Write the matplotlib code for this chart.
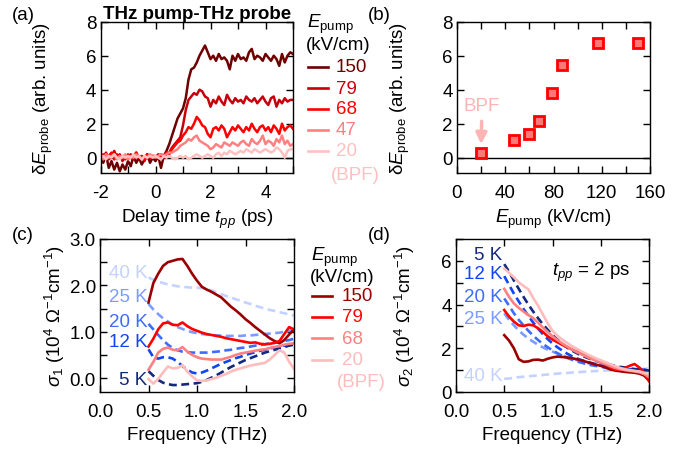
import matplotlib.pyplot as plt
import numpy as np
from matplotlib.ticker import MultipleLocator, FormatStrFormatter
from matplotlib.lines import Line2D

plt.rcParams['font.family'] = ['Liberation Sans', 'DejaVu Sans']
plt.rcParams['mathtext.fontset'] = 'custom'
plt.rcParams['mathtext.rm'] = 'Liberation Sans'
plt.rcParams['mathtext.it'] = 'Liberation Sans:italic'
plt.rcParams['mathtext.bf'] = 'Liberation Sans:bold'
plt.rcParams['axes.unicode_minus'] = False
FS = 13.5
plt.rcParams['font.size'] = FS

# ---- (a) pump-probe traces, delay -2 .. 5 ps in 0.1 ps steps ----
delay = np.round(np.arange(-2.0, 5.05, 0.1), 1)
trace_150 = [0.1, -0.3, 0.2, -0.6, -0.2, -0.7, -0.3, -0.8, -0.4, -0.7,
             -0.2, -0.5, 0.1, -0.3, 0.0, -0.4, -0.1, 0.2, -0.3, 0.0,
             -0.2, 0.1, -0.6, 0.1, 0.4, 0.8, 1.3, 1.8, 2.3, 2.6,
             2.9, 3.5, 4.6, 5.2, 5.3, 5.6, 6.0, 6.3, 6.6, 6.2,
             5.8, 6.0, 5.7, 6.1, 5.8, 5.9, 5.7, 5.2, 6.0, 5.7,
             6.1, 5.8, 5.9, 5.7, 6.2, 6.4, 5.8, 6.0, 5.9, 5.7,
             6.1, 5.9, 5.7, 6.0, 5.8, 5.4, 6.1, 5.6, 6.0, 6.2,
             6.1]
trace_79 = [0.2, 0.0, 0.3, -0.1, 0.1, 0.4, 0.0, 0.2, -0.2, 0.1,
            0.0, 0.2, -0.1, 0.3, 0.0, 0.1, -0.2, 0.2, 0.0, 0.1,
            0.0, 0.2, 0.1, 0.0, 0.2, 0.3, 0.6, 0.8, 1.0, 1.2,
            1.9, 2.8, 3.4, 3.6, 3.8, 3.7, 4.0, 3.9, 3.6, 3.5,
            3.0, 3.4, 3.2, 3.6, 3.3, 3.1, 3.7, 3.4, 3.2, 3.5,
            3.3, 3.4, 3.2, 3.6, 3.4, 3.3, 3.5, 3.2, 3.4, 3.6,
            3.3, 3.1, 3.5, 3.6, 3.0, 3.4, 3.2, 3.5, 3.3, 3.4,
            3.4]
trace_68 = [-0.1, 0.2, 0.0, 0.1, 0.3, -0.1, 0.2, 0.0, 0.1, -0.1,
            0.2, 0.0, 0.1, 0.3, 0.0, 0.1, -0.1, 0.2, 0.0, 0.1,
            0.1, 0.0, 0.2, 0.1, 0.3, 0.2, 0.5, 0.7, 0.9, 1.0,
            1.3, 1.5, 1.8, 1.7, 2.0, 2.4, 2.2, 1.9, 1.8, 1.4,
            1.2, 1.7, 1.8, 1.6, 1.9, 1.7, 1.2, 1.5, 1.8, 1.6,
            1.9, 1.7, 1.5, 1.8, 1.6, 2.0, 1.7, 1.5, 1.8, 1.9,
            1.6, 1.8, 1.5, 1.9, 1.7, 1.4, 2.0, 1.6, 1.8, 1.9,
            1.7]
trace_47 = [0.1, -0.1, 0.2, 0.0, 0.1, 0.2, -0.1, 0.1, 0.0, 0.2,
            -0.1, 0.1, 0.0, 0.2, 0.1, -0.1, 0.1, 0.0, 0.2, 0.1,
            0.0, 0.1, 0.2, 0.1, 0.2, 0.3, 0.3, 0.4, 0.5, 0.7,
            0.8, 0.9, 1.1, 1.0, 1.2, 1.3, 1.0, 0.9, 0.8, 0.7,
            0.5, 0.6, 0.8, 0.7, 0.6, 0.9, 0.8, 0.7, 0.9, 0.8,
            0.7, 0.9, 1.0, 0.8, 0.7, 1.1, 0.9, 0.8, 1.0, 1.3,
            0.8, 1.0, 0.9, 0.7, 1.1, 0.9, 1.3, 0.8, 1.0, 0.7,
            0.8]
trace_20 = [0.0, 0.1, -0.1, 0.1, 0.0, 0.2, 0.0, -0.1, 0.1, 0.0,
            0.1, 0.0, 0.2, 0.0, 0.1, -0.1, 0.1, 0.0, 0.1, 0.0,
            0.1, 0.0, -0.1, 0.1, 0.0, 0.1, 0.0, -0.1, 0.0, 0.1,
            0.0, 0.1, -0.1, 0.0, 0.1, 0.2, 0.1, 0.0, 0.1, 0.2,
            0.1, 0.0, 0.2, 0.3, 0.1, 0.3, 0.2, 0.4, 0.3, 0.2,
            0.3, 0.4, 0.3, 0.5, 0.4, 0.3, 0.5, 0.4, 0.3, 0.4,
            0.5, 0.4, 0.3, 0.4, 0.6, 0.5, 0.3, 0.0, 0.4, 0.5,
            0.5]

# ---- (b) peak signal vs pump field ----
e_pump = [20, 47, 60, 68, 79, 87, 117, 150]
peak_signal = [0.25, 1.04, 1.42, 2.15, 3.83, 5.47, 6.72, 6.72]

# ---- (c), (d) optical conductivity, 0.5 .. 2.0 THz in 0.05 THz steps ----
freq = np.round(np.arange(0.5, 2.001, 0.05), 2)
s1_150 = [1.63, 2.05, 2.25, 2.42, 2.50, 2.53, 2.56, 2.57, 2.42, 2.25,
          2.10, 1.97, 1.91, 1.86, 1.80, 1.74, 1.64, 1.54, 1.46, 1.37,
          1.27, 1.19, 1.10, 1.02, 0.94, 0.86, 0.80, 0.75, 0.82, 0.94, 1.05]
s1_79 = [0.68, 0.85, 1.05, 1.18, 1.20, 1.15, 1.14, 1.20, 1.12, 1.06,
         1.02, 0.98, 0.95, 0.93, 0.91, 0.89, 0.86, 0.84, 0.82, 0.80,
         0.78, 0.76, 0.77, 0.74, 0.73, 0.74, 0.76, 0.80, 0.95, 1.10, 1.05]
s1_68 = [0.18, 0.35, 0.55, 0.63, 0.66, 0.61, 0.60, 0.67, 0.57, 0.50,
         0.45, 0.42, 0.41, 0.40, 0.40, 0.40, 0.43, 0.46, 0.50, 0.53,
         0.55, 0.57, 0.59, 0.61, 0.62, 0.65, 0.67, 0.69, 0.72, 0.74, 0.75]
s1_20 = [-0.02, -0.12, -0.02, 0.12, 0.25, 0.21, 0.22, 0.28, 0.14, 0.04,
         -0.05, -0.06, -0.05, -0.02, 0.01, 0.05, 0.09, 0.14, 0.18, 0.21,
         0.24, 0.27, 0.29, 0.31, 0.33, 0.40, 0.50, 0.60, 0.55, 0.35, 0.20]
s1_40K = [2.17, 2.12, 2.08, 2.05, 2.02, 2.00, 1.98, 1.97, 1.96, 1.95,
          1.95, 1.94, 1.92, 1.89, 1.85, 1.81, 1.77, 1.74, 1.70, 1.67,
          1.63, 1.60, 1.56, 1.53, 1.50, 1.47, 1.45, 1.42, 1.40, 1.37, 1.35]
s1_25K = [1.60, 1.48, 1.38, 1.29, 1.22, 1.15, 1.10, 1.06, 1.02, 0.99,
          0.97, 0.95, 0.94, 0.93, 0.92, 0.92, 0.91, 0.91, 0.91, 0.91,
          0.92, 0.92, 0.93, 0.94, 0.95, 0.96, 0.97, 0.98, 1.00, 1.02, 1.04]
s1_20K = [1.17, 1.05, 0.93, 0.82, 0.72, 0.65, 0.60, 0.57, 0.56, 0.55,
          0.55, 0.55, 0.55, 0.56, 0.57, 0.58, 0.60, 0.61, 0.63, 0.65,
          0.66, 0.68, 0.70, 0.71, 0.73, 0.75, 0.76, 0.78, 0.80, 0.82, 0.85]
s1_12K = [0.62, 0.45, 0.42, 0.45, 0.45, 0.42, 0.35, 0.26, 0.18, 0.12,
          0.10, 0.12, 0.16, 0.21, 0.26, 0.31, 0.35, 0.39, 0.43, 0.46,
          0.50, 0.53, 0.56, 0.59, 0.61, 0.64, 0.66, 0.68, 0.70, 0.72, 0.75]
s1_5K = [0.15, 0.05, -0.04, -0.10, -0.13, -0.15, -0.15, -0.14, -0.13, -0.12,
         -0.11, -0.08, -0.04, 0.01, 0.06, 0.12, 0.18, 0.24, 0.29, 0.34,
         0.39, 0.43, 0.47, 0.51, 0.55, 0.58, 0.61, 0.64, 0.67, 0.70, 0.72]

s2_150 = [2.60, 2.35, 2.00, 1.50, 1.38, 1.40, 1.47, 1.48, 1.44, 1.52,
          1.58, 1.62, 1.60, 1.58, 1.55, 1.50, 1.45, 1.38, 1.32, 1.25,
          1.20, 1.12, 1.03, 0.98, 0.95, 0.92, 0.90, 0.88, 0.84, 0.75, 0.52]
s2_79 = [3.75, 3.45, 3.22, 3.05, 3.02, 3.08, 3.05, 2.92, 2.75, 2.55,
         2.40, 2.28, 2.16, 2.05, 1.95, 1.85, 1.75, 1.65, 1.55, 1.46,
         1.38, 1.28, 1.12, 1.02, 1.02, 1.10, 1.20, 1.28, 1.12, 0.90, 0.50]
s2_68 = [4.72, 4.35, 4.05, 3.85, 3.68, 3.52, 3.38, 3.18, 2.95, 2.75,
         2.55, 2.38, 2.22, 2.08, 1.95, 1.83, 1.72, 1.62, 1.52, 1.43,
         1.35, 1.27, 1.18, 1.10, 1.04, 1.00, 0.97, 0.94, 0.90, 0.82, 0.68]
s2_20 = [5.65, 5.45, 5.25, 5.02, 4.85, 4.70, 4.30, 3.95, 3.55, 3.15,
         2.80, 2.58, 2.40, 2.25, 2.10, 1.98, 1.86, 1.75, 1.64, 1.54,
         1.45, 1.36, 1.27, 1.18, 1.10, 1.04, 1.00, 0.97, 0.94, 0.88, 0.80]
s2_5K = [5.85, 5.50, 5.10, 4.72, 4.35, 4.00, 3.68, 3.38, 3.10, 2.85,
         2.60, 2.40, 2.20, 2.04, 1.90, 1.78, 1.67, 1.58, 1.50, 1.42,
         1.35, 1.30, 1.24, 1.20, 1.15, 1.12, 1.08, 1.05, 1.03, 1.01, 0.98]
s2_12K = [5.30, 4.90, 4.50, 4.15, 3.80, 3.48, 3.18, 2.90, 2.65, 2.42,
          2.22, 2.05, 1.90, 1.76, 1.64, 1.54, 1.46, 1.39, 1.33, 1.27,
          1.22, 1.18, 1.14, 1.11, 1.08, 1.06, 1.04, 1.03, 1.02, 1.01, 1.00]
s2_20K = [4.28, 3.95, 3.60, 3.30, 3.05, 2.80, 2.58, 2.38, 2.20, 2.05,
          1.90, 1.78, 1.66, 1.56, 1.48, 1.40, 1.34, 1.28, 1.23, 1.19,
          1.15, 1.12, 1.09, 1.07, 1.05, 1.04, 1.03, 1.02, 1.02, 1.01, 1.00]
s2_25K = [3.60, 3.30, 3.05, 2.82, 2.62, 2.45, 2.30, 2.16, 2.04, 1.94,
          1.85, 1.76, 1.68, 1.60, 1.53, 1.46, 1.40, 1.34, 1.29, 1.24,
          1.20, 1.16, 1.12, 1.09, 1.06, 1.03, 1.01, 0.99, 0.97, 0.96, 0.95]
s2_40K = [0.60, 0.62, 0.65, 0.68, 0.70, 0.72, 0.74, 0.76, 0.78, 0.80,
          0.82, 0.84, 0.86, 0.87, 0.89, 0.90, 0.92, 0.93, 0.95, 0.96,
          0.97, 0.98, 0.99, 1.00, 1.01, 1.02, 1.03, 1.04, 1.05, 1.06, 1.07]

pump_labels_a = ['150', '79', '68', '47', '20']
pump_colors_a = ['#6e0000', '#c8000c', '#ff0000', '#ff8080', '#ffc0c0']
pump_labels_c = ['150', '79', '68', '20']
pump_colors_c = ['#9b0000', '#ff0000', '#ff8080', '#ffbcbc']
temp_labels = ['40 K', '25 K', '20 K', '12 K', '5 K']
temp_colors = ['#c4d2ff', '#7c9cff', '#3d6cff', '#0f46f5', '#14287f']

W, H = 695, 456
fig = plt.figure(figsize=(W / 100, H / 100), dpi=100)


def box(l, t, r, b):
    return [l / W, 1 - b / H, (r - l) / W, (b - t) / H]


def fx(x):
    return x / W


def fy(y):
    return 1 - y / H


def style(ax):
    ax.tick_params(which='both', direction='in', top=True, right=True,
                   length=5, width=1, labelsize=FS)
    ax.tick_params(axis='x', which='both', pad=8)
    ax.tick_params(axis='y', which='both', pad=3)
    for s in ax.spines.values():
        s.set_linewidth(1)


ax_a = fig.add_axes(box(100.5, 22.7, 293, 174))
ax_b = fig.add_axes(box(457, 22.7, 650, 174))
ax_c = fig.add_axes(box(100, 240, 294, 393))
ax_d = fig.add_axes(box(456, 240, 649, 393))

# (a)
ax_a.axhline(0, color='black', lw=1)
for tr, c in zip([trace_150, trace_79, trace_68, trace_47, trace_20], pump_colors_a):
    ax_a.plot(delay, tr, color=c, lw=1.8)
ax_a.set_xlim(-2, 5)
ax_a.set_ylim(-0.9, 8)
ax_a.xaxis.set_major_locator(MultipleLocator(2))
ax_a.xaxis.set_minor_locator(MultipleLocator(1))
ax_a.yaxis.set_major_locator(MultipleLocator(2))
style(ax_a)
ax_a.set_xlabel('Delay time $t_{pp}$ (ps)', fontsize=FS, labelpad=4)
ax_a.set_ylabel(r'δ$E_{\mathrm{probe}}$ (arb. units)', fontsize=FS)
ax_a.yaxis.set_label_coords(-0.235, 0.5)
ax_a.set_title('THz pump-THz probe', fontsize=FS, fontweight='bold', pad=0)

# (b)
ax_b.axhline(0, color='black', lw=1)
ax_b.plot(e_pump, peak_signal, ls='none', marker='s', ms=7.5, mew=2,
          mec='#ff0000', mfc='#ff7878')
ax_b.annotate('BPF', xy=(e_pump[0], 0.8), xytext=(e_pump[0] + 0.7, 3.05),
              ha='center', va='center', color='#ffb4b4', fontsize=FS,
              arrowprops=dict(arrowstyle='-|>', color='#ffb4b4', lw=2.5,
                              mutation_scale=16, shrinkA=3, shrinkB=0))
ax_b.set_xlim(0, 160)
ax_b.set_ylim(-0.9, 8)
ax_b.xaxis.set_major_locator(MultipleLocator(40))
ax_b.xaxis.set_minor_locator(MultipleLocator(20))
ax_b.yaxis.set_major_locator(MultipleLocator(2))
style(ax_b)
ax_b.set_xlabel(r'$E_{\mathrm{pump}}$ (kV/cm)', fontsize=FS, labelpad=4)
ax_b.set_ylabel(r'δ$E_{\mathrm{probe}}$ (arb. units)', fontsize=FS)
ax_b.yaxis.set_label_coords(-0.233, 0.5)

# (c) and (d)
dash = (0, (3, 1.7))
for s, c in zip([s1_40K, s1_25K, s1_20K, s1_12K, s1_5K], temp_colors):
    ax_c.plot(freq, s, color=c, lw=1.9, ls=dash)
for s, c in zip([s1_150, s1_79, s1_68, s1_20], pump_colors_c):
    ax_c.plot(freq, s, color=c, lw=1.9)
for s, c in zip([s2_40K, s2_25K, s2_20K, s2_12K, s2_5K], temp_colors):
    ax_d.plot(freq, s, color=c, lw=1.9, ls=dash)
for s, c in zip([s2_150, s2_79, s2_68, s2_20], pump_colors_c):
    ax_d.plot(freq, s, color=c, lw=1.9)

label_y_c = [2.27, 1.75, 1.23, 0.78, -0.02]
for t, c, y in zip(temp_labels, temp_colors, label_y_c):
    ax_c.text(0.49, y, t, color=c, ha='right', va='center', fontsize=FS)
label_y_d = [0.74, 3.36, 4.38, 5.44, 6.27]
for t, c, y in zip(temp_labels, temp_colors, label_y_d):
    ax_d.text(0.48, y, t, color=c, ha='right', va='center', fontsize=FS)
ax_d.text(1.0, 5.5, '$t_{pp}$ = 2 ps', ha='left', va='center', fontsize=FS)

ax_c.set_xlim(0, 2)
ax_c.set_ylim(-0.3, 3.0)
ax_c.xaxis.set_major_locator(MultipleLocator(0.5))
ax_c.yaxis.set_major_locator(MultipleLocator(1.0))
ax_c.yaxis.set_minor_locator(MultipleLocator(0.5))
ax_c.xaxis.set_major_formatter(FormatStrFormatter('%.1f'))
ax_c.yaxis.set_major_formatter(FormatStrFormatter('%.1f'))
style(ax_c)
ax_c.set_xlabel('Frequency (THz)', fontsize=FS, labelpad=4)
ax_c.set_ylabel(r'$\sigma_1$ (10$^4$ Ω$^{-1}$cm$^{-1}$)', fontsize=FS)
ax_c.yaxis.set_label_coords(-0.17, 0.5)

ax_d.set_xlim(0, 2)
ax_d.set_ylim(0, 7)
ax_d.xaxis.set_major_locator(MultipleLocator(0.5))
ax_d.yaxis.set_major_locator(MultipleLocator(2))
ax_d.yaxis.set_minor_locator(MultipleLocator(1))
ax_d.xaxis.set_major_formatter(FormatStrFormatter('%.1f'))
style(ax_d)
ax_d.set_xlabel('Frequency (THz)', fontsize=FS, labelpad=4)
ax_d.set_ylabel(r'$\sigma_2$ (10$^4$ Ω$^{-1}$cm$^{-1}$)', fontsize=FS)
ax_d.yaxis.set_label_coords(-0.202, 0.5)


# pump-field keys between the panels
def pump_key(x_line, x_text, y_title, rows, colors, y_rows, y_bpf, x_bpf):
    fig.text(fx(x_line - 1), fy(y_title), r'$E_{\mathrm{pump}}$', va='center', fontsize=FS)
    fig.text(fx(x_line - 2), fy(y_title + 21), '(kV/cm)', va='center', fontsize=FS)
    for lab, c, y in zip(rows, colors, y_rows):
        fig.add_artist(Line2D([fx(x_line), fx(x_line + 20)], [fy(y), fy(y)],
                              color=c, lw=1.9))
        fig.text(fx(x_text), fy(y), lab, color=c, va='center', fontsize=FS)
    fig.text(fx(x_bpf), fy(y_bpf), '(BPF)', color=colors[-1], va='center', fontsize=FS)


pump_key(308, 336, 24, pump_labels_a, pump_colors_a,
         [68, 89, 110, 131, 152], 175, 331)
pump_key(312, 342, 257, pump_labels_c, pump_colors_c,
         [297, 318, 339, 361], 383, 337)

for lab, x, y in [('(a)', 12, 15), ('(b)', 368, 15), ('(c)', 12, 236), ('(d)', 368, 236)]:
    fig.text(fx(x), fy(y), lab, va='center', fontsize=FS)

fig.savefig('out.png', dpi=100)
